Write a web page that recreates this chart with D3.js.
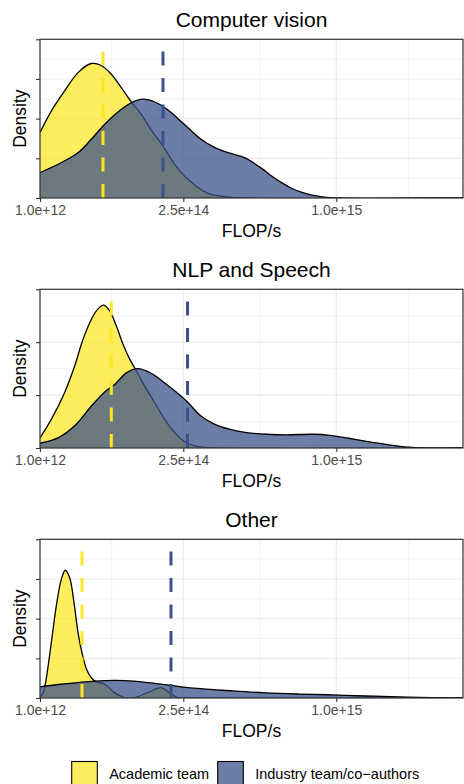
<!DOCTYPE html>
<html>
<head>
<meta charset="utf-8">
<script src="https://cdn.jsdelivr.net/npm/d3@7"></script>
<style>
  body { margin: 0; background: #fff; }
  text { font-family: "Liberation Sans", Arial, sans-serif; }
</style>
</head>
<body>
<div id="container"></div>
<script>
const width = 464;
const height = 784;

// x values are TFLOP/s (1e12 FLOP/s), densities in panel units
const xBreaks = [1, 250, 1000];
const xMinor = [70.6, 563, 1530];

const panelTitles = ["Computer vision", "NLP and Speech", "Other"];
const panelYMax = [4, 3, 4];
const groups = ["Academic team", "Industry team/co\u2212authors"];

const cvAcadX = [1, 4.7, 12.6, 24.3, 39.7, 53.8, 70.1, 88.4, 108.9, 131.6, 156.3, 188, 222.6, 265.6, 332.3, 412, 492.4, 2000];
const cvAcadY = [1.65, 2.19, 2.7, 3.16, 3.39, 3.34, 3.12, 2.78, 2.42, 2.11, 1.71, 1.31, 0.85, 0.47, 0.13, 0.03, 0, 0];
const cvIndX = [1, 8.18, 24.3, 39.7, 59.1, 82.1, 108.9, 135.6, 165.3, 202.5, 233, 265.6, 307.6, 364.4, 426, 492.4, 573.4, 624, 676.7, 731.6, 788.5, 847.6, 908.8, 1005, 2000];
const cvIndY = [0.64, 0.85, 1.14, 1.48, 1.86, 2.17, 2.4, 2.49, 2.42, 2.22, 2.0, 1.77, 1.5, 1.27, 1.13, 1.01, 0.74, 0.55, 0.38, 0.24, 0.14, 0.07, 0.03, 0, 0];

const nlpAcadX = [1, 4.7, 12.6, 21, 29.6, 39.7, 48.9, 57.5, 67.3, 79, 91.8, 105.5, 120, 139.7, 165.3, 192.9, 222.6, 259.9, 307.6, 364.4, 2000];
const nlpAcadY = [0.19, 0.54, 1.05, 1.55, 2.05, 2.43, 2.63, 2.7, 2.59, 2.31, 1.96, 1.68, 1.46, 1.17, 0.86, 0.54, 0.29, 0.1, 0.02, 0, 0];
const nlpIndX = [1, 8.18, 21, 39.7, 59.1, 76.1, 98.4, 123.9, 156.3, 192.9, 233, 265.6, 307.6, 357.7, 426, 500, 596.8, 702, 855.6, 959.4, 1069, 1197, 1372, 1530, 1664, 2000];
const nlpIndY = [0.09, 0.19, 0.42, 0.79, 1.06, 1.2, 1.42, 1.5, 1.41, 1.23, 1.03, 0.86, 0.62, 0.46, 0.35, 0.29, 0.26, 0.25, 0.26, 0.24, 0.19, 0.13, 0.06, 0.015, 0, 0];

const otherAcadX = [1, 1.72, 2.4, 4.7, 7.21, 10.25, 13.07, 16.56, 20.4, 24.3, 28.5, 33.5, 39.7, 47.1, 59.1, 76.1, 95.2, 116.4, 147.9, 183.3, 208.4, 233, 272.3, 2000];
const otherAcadY = [0.03, 0.12, 0.35, 1.39, 2.32, 2.99, 3.22, 3.03, 2.4, 1.65, 1.14, 0.74, 0.51, 0.4, 0.35, 0.13, 0.01, 0.01, 0.14, 0.26, 0.12, 0.01, 0, 0];
const otherIndX = [1, 8.18, 24.3, 59.1, 95.2, 147.9, 212.3, 265.6, 434.6, 588.5, 769.4, 972, 1197, 1450, 1724, 2000];
const otherIndY = [0.28, 0.34, 0.39, 0.44, 0.44, 0.39, 0.32, 0.26, 0.18, 0.13, 0.1, 0.08, 0.05, 0.03, 0.01, 0.005];

// dashed lines (group means)
const cvMeans = [56.4, 188];
const nlpMeans = [70.1, 264];
const otherMeans = [28.5, 211.4];

const panels = [
  { acad: [cvAcadX, cvAcadY], ind: [cvIndX, cvIndY], means: cvMeans },
  { acad: [nlpAcadX, nlpAcadY], ind: [nlpIndX, nlpIndY], means: nlpMeans },
  { acad: [otherAcadX, otherAcadY], ind: [otherIndX, otherIndY], means: otherMeans }
];

const colors = ["#FDE725", "#3B528B"];
const fillOpacity = 0.75;

const svg = d3
  .select("#container")
  .append("svg")
  .attr("width", width)
  .attr("height", height);

const left = 40, right = 463;
const x = d3.scaleSqrt().domain([1, 2000]).range([left, right]);
const fmt = d3.format(".1e");

panels.forEach((p, i) => {
  const top = 39.3 + i * 250;
  const bottom = 198 + i * 250;
  const yMax = panelYMax[i];
  const y = d3.scaleLinear().domain([0, yMax]).range([bottom, top]);
  const g = svg.append("g");

  svg.append("clipPath").attr("id", "clip" + i)
    .append("rect").attr("x", left).attr("y", top)
    .attr("width", right - left).attr("height", bottom - top);

  // grid
  const yMinor = d3.range(0.5, yMax, 1);
  g.selectAll(".hmin").data(yMinor).enter().append("line")
    .attr("x1", left).attr("x2", right)
    .attr("y1", (d) => y(d)).attr("y2", (d) => y(d))
    .attr("stroke", "#EBEBEB").attr("stroke-width", 0.6);
  g.selectAll(".vmin").data(xMinor).enter().append("line")
    .attr("x1", (d) => x(d)).attr("x2", (d) => x(d))
    .attr("y1", top).attr("y2", bottom)
    .attr("stroke", "#EBEBEB").attr("stroke-width", 0.6);
  g.selectAll(".hmaj").data(d3.range(0, yMax + 1)).enter().append("line")
    .attr("x1", left).attr("x2", right)
    .attr("y1", (d) => y(d)).attr("y2", (d) => y(d))
    .attr("stroke", "#EBEBEB").attr("stroke-width", 1.2);
  g.selectAll(".vmaj").data(xBreaks).enter().append("line")
    .attr("x1", (d) => x(d)).attr("x2", (d) => x(d))
    .attr("y1", top).attr("y2", bottom)
    .attr("stroke", "#EBEBEB").attr("stroke-width", 1.2);

  // densities
  const dg = g.append("g").attr("clip-path", `url(#clip${i})`);
  [p.acad, p.ind].forEach(([xs, ys], k) => {
    const pts = xs.map((v, j) => [v, ys[j]]);
    const area = d3.area()
      .x((d) => x(d[0])).y0(y(0)).y1((d) => y(Math.max(0, d[1])))
      .curve(d3.curveCatmullRom.alpha(0.5));
    const line = d3.line()
      .x((d) => x(d[0])).y((d) => y(d[1]))
      .curve(d3.curveCatmullRom.alpha(0.5));
    dg.append("path").attr("d", area(pts))
      .attr("fill", colors[k]).attr("fill-opacity", fillOpacity);
    dg.append("path").attr("d", line(pts))
      .attr("fill", "none").attr("stroke", "#000").attr("stroke-width", 1.3);
  });

  // means
  g.selectAll(".mean").data(p.means).enter().append("line")
    .attr("x1", (d) => x(d)).attr("x2", (d) => x(d))
    .attr("y1", bottom).attr("y2", top)
    .attr("stroke", (d, k) => colors[k])
    .attr("stroke-width", 3)
    .attr("stroke-dasharray", "14,12.5");

  // border
  g.append("rect")
    .attr("x", left).attr("y", top)
    .attr("width", right - left).attr("height", bottom - top)
    .attr("fill", "none").attr("stroke", "#333333").attr("stroke-width", 1.2);

  // axes
  const xa = g.append("g").attr("transform", `translate(0,${bottom})`)
    .call(d3.axisBottom(x).tickValues(xBreaks).tickSize(4).tickFormat((d) => fmt(d * 1e12)));
  xa.select(".domain").remove();
  xa.selectAll(".tick line").attr("stroke", "#333333").attr("stroke-width", 1.1);
  xa.selectAll(".tick text").attr("fill", "#4D4D4D").attr("font-size", 14)
    .attr("y", 7).attr("dy", "0.71em")
    .style("font-family", '"Liberation Sans", Arial, sans-serif');

  const ya = g.append("g").attr("transform", `translate(${left},0)`)
    .call(d3.axisLeft(y).tickValues(d3.range(0, yMax + 1)).tickSize(4).tickFormat(""));
  ya.select(".domain").remove();
  ya.selectAll(".tick line").attr("stroke", "#333333").attr("stroke-width", 1.1);

  // titles
  g.append("text").attr("x", (left + right) / 2).attr("y", top - 12.6)
    .attr("text-anchor", "middle").attr("font-size", 21).text(panelTitles[i]);
  g.append("text").attr("x", (left + right) / 2).attr("y", bottom + 39.3)
    .attr("text-anchor", "middle").attr("font-size", 17.5).text("FLOP/s");
  g.append("text")
    .attr("transform", `translate(25.5,${(top + bottom) / 2}) rotate(-90)`)
    .attr("text-anchor", "middle").attr("font-size", 17.5).text("Density");
});

// legend
const legendX = [71.7, 217.7];
const lg = svg.append("g");
groups.forEach((name, k) => {
  lg.append("rect")
    .attr("x", legendX[k]).attr("y", 761.5)
    .attr("width", 25.6).attr("height", 26)
    .attr("fill", colors[k]).attr("fill-opacity", fillOpacity)
    .attr("stroke", "#000").attr("stroke-width", 1.1);
  lg.append("text")
    .attr("x", legendX[k] + 37.5).attr("y", 779.3)
    .attr("font-size", 14.5).text(name);
});
</script>
</body>
</html>
